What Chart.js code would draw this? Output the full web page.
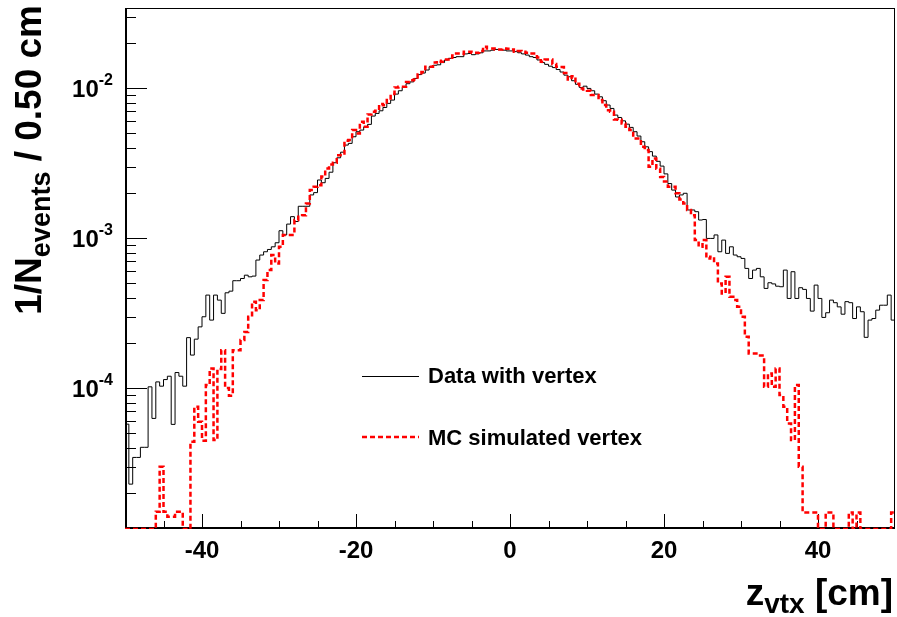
<!DOCTYPE html>
<html>
<head>
<meta charset="utf-8">
<script src="https://cdn.jsdelivr.net/npm/chart.js@4.4.0/dist/chart.umd.min.js"></script>
<style>
html, body { margin: 0; padding: 0; background: #fff; }
#wrap { width: 897px; height: 617px; }
</style>
</head>
<body>
<div id="wrap"><canvas id="chart"></canvas></div>
<script>
// histogram binning: 200 bins of 0.50 cm from -50 to 50
const binLow = -50;
const binWidth = 0.5;

// 1/N_events per bin, data with vertex (black)
const dataVtx = [
  5.75e-5, 2.29e-5, 3.45e-5, 3.45e-5, 4.03e-5, 4.03e-5, 1.02e-4, 6.28e-5, 1.10e-4, 1.03e-4,
  1.14e-4, 1.20e-4, 5.73e-5, 1.27e-4, 1.20e-4, 1.03e-4, 2.17e-4, 1.66e-4, 2.12e-4, 2.56e-4,
  2.99e-4, 4.17e-4, 2.84e-4, 4.17e-4, 3.86e-4, 3.15e-4, 4.32e-4, 4.43e-4, 5.20e-4, 5.20e-4,
  5.38e-4, 5.66e-4, 5.52e-4, 5.58e-4, 7.14e-4, 7.71e-4, 8.11e-4, 8.40e-4, 8.75e-4, 9.31e-4,
  1.12e-3, 1.05e-3, 1.24e-3, 1.39e-3, 1.29e-3, 1.63e-3, 1.63e-3, 1.63e-3, 1.94e-3, 2.01e-3,
  2.44e-3, 2.34e-3, 2.50e-3, 2.75e-3, 3.18e-3, 3.43e-3, 3.74e-3, 4.17e-3, 4.28e-3, 4.74e-3,
  5.12e-3, 5.25e-3, 5.52e-3, 5.73e-3, 6.51e-3, 6.78e-3, 7.06e-3, 7.43e-3, 7.91e-3, 8.32e-3,
  9.12e-3, 9.60e-3, 1.01e-2, 1.07e-2, 1.10e-2, 1.16e-2, 1.23e-2, 1.26e-2, 1.32e-2, 1.39e-2,
  1.42e-2, 1.43e-2, 1.48e-2, 1.54e-2, 1.58e-2, 1.60e-2, 1.62e-2, 1.62e-2, 1.69e-2, 1.70e-2,
  1.67e-2, 1.69e-2, 1.72e-2, 1.77e-2, 1.77e-2, 1.79e-2, 1.81e-2, 1.80e-2, 1.79e-2, 1.77e-2,
  1.77e-2, 1.75e-2, 1.72e-2, 1.69e-2, 1.66e-2, 1.62e-2, 1.60e-2, 1.54e-2, 1.48e-2, 1.44e-2,
  1.40e-2, 1.37e-2, 1.33e-2, 1.28e-2, 1.22e-2, 1.19e-2, 1.12e-2, 1.06e-2, 1.01e-2, 1.03e-2,
  9.95e-3, 9.60e-3, 9.12e-3, 8.75e-3, 8.24e-3, 7.71e-3, 7.32e-3, 6.61e-3, 6.37e-3, 6.05e-3,
  5.75e-3, 5.47e-3, 5.12e-3, 4.79e-3, 4.39e-3, 4.06e-3, 3.77e-3, 3.52e-3, 3.25e-3, 3.02e-3,
  2.68e-3, 2.31e-3, 2.09e-3, 1.88e-3, 1.94e-3, 1.99e-3, 1.54e-3, 1.54e-3, 1.50e-3, 1.32e-3,
  1.33e-3, 9.95e-4, 9.95e-4, 1.05e-3, 8.11e-4, 9.70e-4, 7.91e-4, 8.75e-4, 7.71e-4, 7.51e-4,
  7.32e-4, 6.28e-4, 5.38e-4, 6.12e-4, 6.28e-4, 5.52e-4, 4.62e-4, 5.04e-4, 4.95e-4, 4.78e-4,
  4.74e-4, 6.12e-4, 3.96e-4, 5.97e-4, 3.96e-4, 4.67e-4, 4.55e-4, 3.96e-4, 3.26e-4, 4.86e-4,
  3.96e-4, 2.96e-4, 3.18e-4, 3.86e-4, 3.71e-4, 3.48e-4, 3.11e-4, 3.77e-4, 3.71e-4, 2.91e-4,
  3.48e-4, 3.23e-4, 2.18e-4, 2.84e-4, 2.91e-4, 3.31e-4, 3.57e-4, 3.57e-4, 4.17e-4, 2.84e-4
];

// MC simulated vertex (red dashed), 0 = empty bin
const mcVtx = [
  0, 0, 0, 0, 0, 0, 0, 0, 1.50e-5, 2.99e-5,
  1.50e-5, 1.39e-5, 1.39e-5, 1.50e-5, 1.50e-5, 0, 0, 4.39e-5, 7.51e-5, 5.97e-5,
  4.46e-5, 1.05e-4, 1.35e-4, 4.50e-5, 1.34e-4, 1.79e-4, 1.00e-4, 8.90e-5, 1.79e-4, 1.79e-4,
  2.09e-4, 2.37e-4, 2.99e-4, 3.77e-4, 3.31e-4, 3.86e-4, 5.25e-4, 6.12e-4, 7.71e-4, 6.78e-4,
  8.75e-4, 1.05e-3, 1.05e-3, 1.05e-3, 1.32e-3, 1.39e-3, 1.42e-3, 1.70e-3, 2.09e-3, 2.20e-3,
  2.25e-3, 2.57e-3, 2.91e-3, 3.10e-3, 3.18e-3, 3.57e-3, 3.67e-3, 4.46e-3, 4.50e-3, 5.25e-3,
  4.99e-3, 5.97e-3, 5.52e-3, 6.67e-3, 6.95e-3, 7.06e-3, 7.82e-3, 7.70e-3, 8.32e-3, 9.12e-3,
  1.01e-2, 1.02e-2, 1.02e-2, 1.10e-2, 1.13e-2, 1.14e-2, 1.23e-2, 1.28e-2, 1.39e-2, 1.39e-2,
  1.48e-2, 1.52e-2, 1.50e-2, 1.55e-2, 1.55e-2, 1.65e-2, 1.70e-2, 1.69e-2, 1.75e-2, 1.75e-2,
  1.72e-2, 1.72e-2, 1.77e-2, 1.89e-2, 1.84e-2, 1.84e-2, 1.81e-2, 1.81e-2, 1.84e-2, 1.83e-2,
  1.81e-2, 1.75e-2, 1.77e-2, 1.75e-2, 1.72e-2, 1.70e-2, 1.70e-2, 1.60e-2, 1.50e-2, 1.55e-2,
  1.55e-2, 1.45e-2, 1.39e-2, 1.38e-2, 1.26e-2, 1.14e-2, 1.20e-2, 1.07e-2, 9.95e-3, 9.80e-3,
  9.60e-3, 8.98e-3, 8.98e-3, 8.32e-3, 7.71e-3, 7.13e-3, 6.95e-3, 6.18e-3, 6.15e-3, 5.81e-3,
  5.52e-3, 5.25e-3, 4.62e-3, 4.62e-3, 4.06e-3, 3.86e-3, 2.99e-3, 3.40e-3, 2.90e-3, 2.55e-3,
  2.38e-3, 2.20e-3, 2.20e-3, 1.99e-3, 1.81e-3, 1.70e-3, 1.54e-3, 1.42e-3, 9.70e-4, 8.75e-4,
  9.70e-4, 7.32e-4, 7.51e-4, 6.78e-4, 4.99e-4, 4.28e-4, 5.52e-4, 4.06e-4, 3.86e-4, 3.48e-4,
  2.99e-4, 2.20e-4, 1.70e-4, 1.70e-4, 1.65e-4, 1.65e-4, 1.02e-4, 1.25e-4, 1.02e-4, 1.35e-4,
  8.98e-5, 7.51e-5, 5.81e-5, 4.50e-5, 1.05e-4, 2.99e-5, 1.48e-5, 1.48e-5, 1.48e-5, 1.48e-5,
  0, 0, 1.48e-5, 1.48e-5, 0, 0, 0, 0, 1.48e-5, 0,
  1.48e-5, 0, 0, 0, 0, 0, 0, 0, 0, 1.48e-5
];

const xLabels = [-40, -20, 0, 20, 40];
const xTickStep = 5;
const yDecades = [-2, -3, -4];
const xMin = -50, xMax = 50;
const yMin = 1.15e-5, yMax = 3.42e-2;

const FONT = "'Liberation Sans', Arial, sans-serif";

// histogram -> stepped line points on bin edges, empty bins sit on the axis floor
function histPoints(vals) {
  const pts = vals.map((v, i) => ({ x: binLow + i * binWidth, y: v > 0 ? v : yMin }));
  pts.push({ x: binLow + vals.length * binWidth, y: pts[pts.length - 1].y });
  return pts;
}

// draws text pieces one after another, pieces with dy are lowered (subscripts)
function drawPieces(ctx, pieces) {
  let x = 0;
  pieces.forEach(p => {
    ctx.font = 'bold ' + p.size + 'px ' + FONT;
    ctx.fillText(p.text, x, p.dy || 0);
    x += ctx.measureText(p.text).width;
  });
  return x;
}
function piecesWidth(ctx, pieces) {
  let w = 0;
  pieces.forEach(p => {
    ctx.font = 'bold ' + p.size + 'px ' + FONT;
    w += ctx.measureText(p.text).width;
  });
  return w;
}

const rootFrame = {
  id: 'rootFrame',
  beforeDatasetsDraw(chart) {
    const { ctx, chartArea: a, scales: { x, y } } = chart;
    ctx.save();
    ctx.strokeStyle = '#000';
    ctx.lineWidth = 1;
    ctx.strokeRect(a.left + 0.5, a.top + 0.5, a.right - a.left - 1, a.bottom - a.top - 1);

    // x ticks, drawn inwards
    ctx.beginPath();
    for (let v = xMin + xTickStep; v < xMax; v += xTickStep) {
      const px = Math.round(x.getPixelForValue(v)) + 0.5;
      const len = xLabels.includes(v) ? 15 : 8;
      ctx.moveTo(px, a.bottom);
      ctx.lineTo(px, a.bottom - len);
    }
    // y ticks, log minors
    for (let k = -5; k <= -1; k++) {
      for (let m = 1; m <= 9; m++) {
        const v = m * Math.pow(10, k);
        if (v < yMin || v > yMax) continue;
        const py = Math.round(y.getPixelForValue(v)) + 0.5;
        const len = m === 1 ? 22 : 11;
        ctx.moveTo(a.left, py);
        ctx.lineTo(a.left + len, py);
      }
    }
    ctx.stroke();

    // axis lines
    ctx.lineWidth = 2;
    ctx.beginPath();
    ctx.moveTo(a.left + 1, a.top);
    ctx.lineTo(a.left + 1, a.bottom - 1);
    ctx.lineTo(a.right, a.bottom - 1);
    ctx.stroke();
    ctx.restore();
  },
  afterDraw(chart) {
    const { ctx, chartArea: a, scales: { x, y } } = chart;
    ctx.save();
    ctx.fillStyle = '#000';
    ctx.textBaseline = 'alphabetic';

    // x tick labels
    ctx.font = 'bold 24px ' + FONT;
    ctx.textAlign = 'center';
    xLabels.forEach(v => {
      ctx.fillText(String(v), x.getPixelForValue(v), a.bottom + 29);
    });

    // y tick labels 10^k
    ctx.textAlign = 'left';
    yDecades.forEach(k => {
      const py = y.getPixelForValue(Math.pow(10, k));
      ctx.font = 'bold 16px ' + FONT;
      const supW = ctx.measureText(String(k)).width;
      ctx.font = 'bold 24px ' + FONT;
      const baseW = ctx.measureText('10').width;
      const right = 113;
      ctx.fillText('10', right - supW - baseW, py + 8.5);
      ctx.font = 'bold 16px ' + FONT;
      ctx.fillText(String(k), right - supW, py - 3);
    });

    // y title, rotated
    const yTitle = [
      { text: '1/N', size: 37 },
      { text: 'events', size: 27, dy: 9 },
      { text: ' / 0.50 cm', size: 37 }
    ];
    const yw = piecesWidth(ctx, yTitle);
    ctx.save();
    ctx.translate(41, 5 + yw);
    ctx.rotate(-Math.PI / 2);
    drawPieces(ctx, yTitle);
    ctx.restore();

    // x title, right aligned
    const xTitle = [
      { text: 'z', size: 37 },
      { text: 'vtx', size: 28, dy: 8 },
      { text: ' [cm]', size: 37 }
    ];
    const xw = piecesWidth(ctx, xTitle);
    ctx.save();
    ctx.translate(893 - xw, 605);
    drawPieces(ctx, xTitle);
    ctx.restore();

    // legend
    ctx.lineWidth = 1;
    ctx.strokeStyle = '#000';
    ctx.beginPath();
    ctx.moveTo(362, 376.5);
    ctx.lineTo(419, 376.5);
    ctx.stroke();
    ctx.strokeStyle = '#ff0000';
    ctx.lineWidth = 2.5;
    ctx.setLineDash([5, 3]);
    ctx.beginPath();
    ctx.moveTo(362, 437);
    ctx.lineTo(419, 437);
    ctx.stroke();
    ctx.setLineDash([]);
    ctx.font = 'bold 22px ' + FONT;
    ctx.textAlign = 'left';
    ctx.fillText('Data with vertex', 428, 383);
    ctx.fillText('MC simulated vertex', 428, 445);
    ctx.restore();
  }
};

new Chart(document.getElementById('chart'), {
  type: 'line',
  data: {
    datasets: [
      {
        label: 'Data with vertex',
        data: histPoints(dataVtx),
        borderColor: '#000000',
        borderWidth: 1,
        stepped: 'before',
        pointRadius: 0,
        fill: false,
        order: 2
      },
      {
        label: 'MC simulated vertex',
        data: histPoints(mcVtx),
        borderColor: '#ff0000',
        borderWidth: 2.5,
        borderDash: [5, 3],
        stepped: 'before',
        pointRadius: 0,
        fill: false,
        order: 1
      }
    ]
  },
  options: {
    responsive: true,
    maintainAspectRatio: false,
    animation: false,
    layout: { padding: { left: 125, right: 2, top: 8, bottom: 88 } },
    plugins: { legend: { display: false }, tooltip: { enabled: false } },
    scales: {
      x: { type: 'linear', min: xMin, max: xMax, display: false },
      y: { type: 'logarithmic', min: yMin, max: yMax, display: false }
    }
  },
  plugins: [rootFrame]
});
</script>
</body>
</html>
